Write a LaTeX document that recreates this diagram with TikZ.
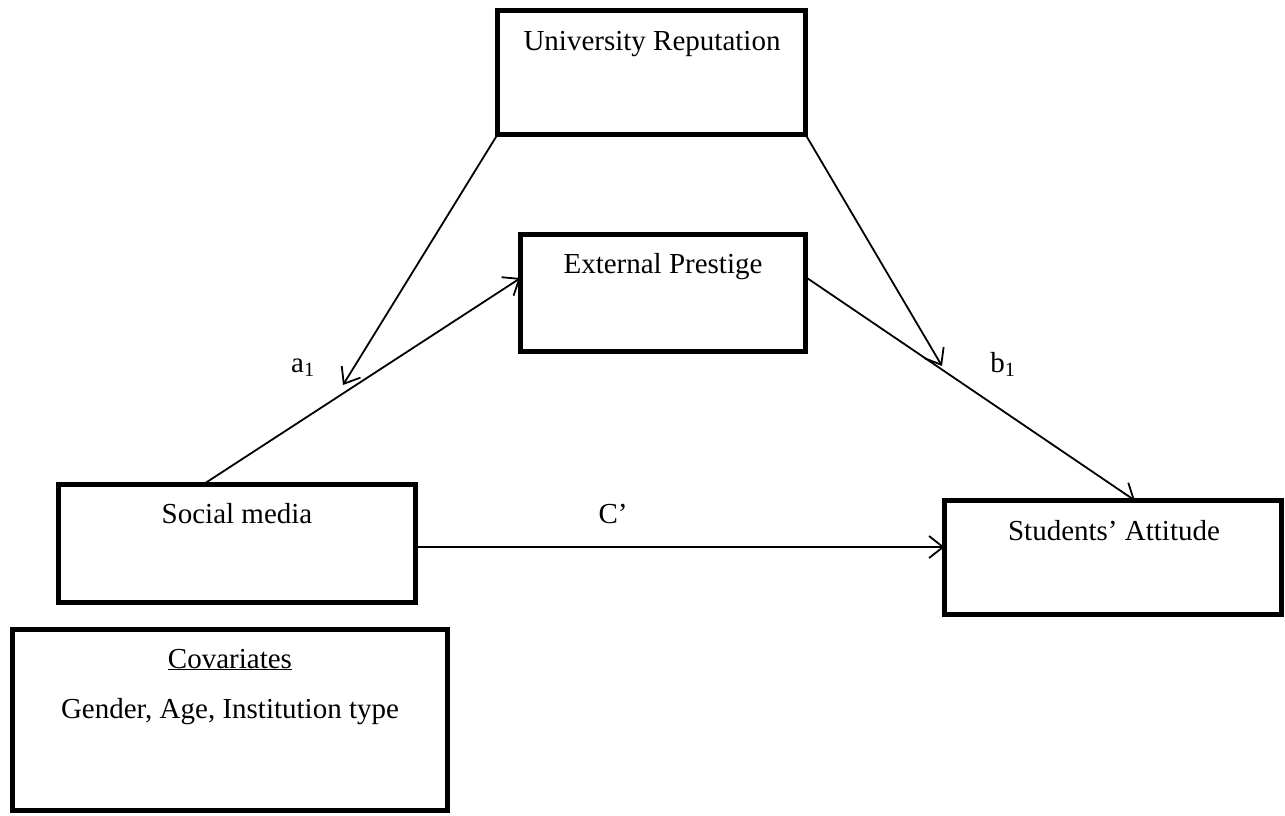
\documentclass[tikz,border=0pt]{standalone}
\usepackage{fontspec}
\setmainfont{Liberation Serif}
\usetikzlibrary{arrows.meta,calc}
\begin{document}
\begin{tikzpicture}[x=1pt,y=-1pt,
  box/.style={draw,rectangle,line width=5pt,inner sep=0pt,outer sep=0pt},
  lbl/.style={anchor=base,inner sep=0pt,font=\fontsize{29}{35}\selectfont},
  arr/.style={line width=1.8pt,-{Straight Barb[length=14pt,width=22pt,line width=1.8pt]}},
  ln/.style={line width=1.8pt}]
\useasboundingbox (0,0) rectangle (1285,815);
% boxes
\node[box,minimum width=308pt,minimum height=124pt] (ur) at (651.5,72.5) {};
\node[box,minimum width=285pt,minimum height=117pt] (ep) at (663,293) {};
\node[box,minimum width=357pt,minimum height=118pt] (sm) at (237,543.5) {};
\node[box,minimum width=337pt,minimum height=114pt] (sa) at (1113,557.5) {};
\node[box,minimum width=435pt,minimum height=181pt] (cov) at (230,720) {};
% texts
\node[lbl] (urt) at (652,50) {University Reputation};
\node[lbl] (ept) at (663,273) {External Prestige};
\node[lbl] (smt) at (237,523) {Social media};
\node[lbl] (sat) at (1114,540) {Students’ Attitude};
\node[lbl] (covt) at (230,668) {\underline{Covariates}};
\node[lbl] (covl) at (230,718) {Gender, Age, Institution type};
\node[lbl] (a1) at (303,372) {a\textsubscript{1}};
\node[lbl] (b1) at (1003,372) {b\textsubscript{1}};
\node[lbl] (cp) at (613,523) {C’};
% connector end points
\coordinate (ma) at (343,385);
\coordinate (mb) at (942,366);
\coordinate (smtop) at ($(sm.north west)!0.405!(sm.north east)$);
\coordinate (epleft) at ($(ep.north west)!0.372!(ep.south west)$);
\coordinate (epright) at ($(ep.north east)!0.363!(ep.south east)$);
\coordinate (satop) at ($(sa.north west)!0.565!(sa.north east)$);
\coordinate (smright) at ($(sm.north east)!0.53!(sm.south east)$);
% connectors
\draw[arr] (smtop) -- (epleft);
\draw[arr] (epright) -- (satop);
\draw[arr] (smright) -- (smright -| sa.west);
\draw[arr] (ur.south west) -- (ma);
\draw[arr] (ur.south east) -- (mb);
\end{tikzpicture}
\end{document}
